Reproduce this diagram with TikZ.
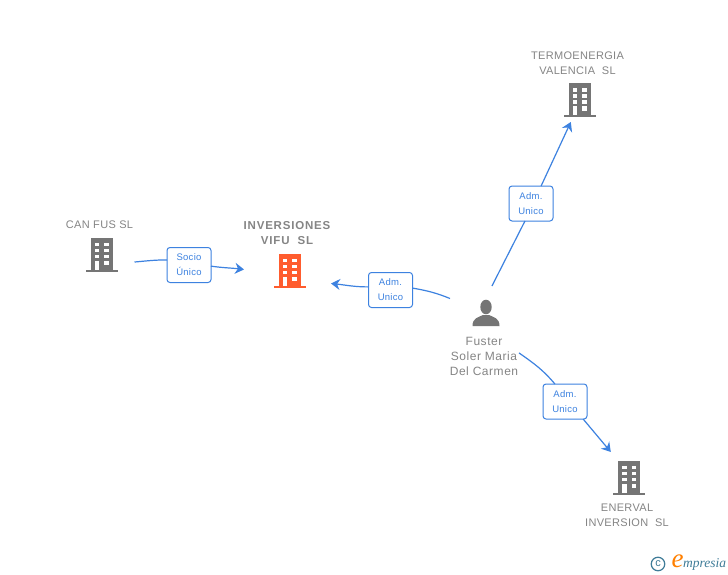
\documentclass[tikz,border=0pt]{standalone}
\usepackage{fontspec}
\setmainfont{Liberation Sans}
\newfontfamily\logofont{Liberation Serif}
\newfontfamily\namefont[LetterSpace=3]{Liberation Sans}
\newfontfamily\widefont[LetterSpace=7]{Liberation Sans}
\newfontfamily\personfont[LetterSpace=4.5]{Liberation Sans}
\newfontfamily\rolefont[LetterSpace=3]{Liberation Sans}
\usepackage{xcolor}
\usetikzlibrary{arrows.meta,positioning}
\definecolor{icongray}{HTML}{757575}
\definecolor{textgray}{HTML}{858585}
\definecolor{hotorange}{HTML}{FF5C2E}
\definecolor{linkblue}{HTML}{3D82E0}
\definecolor{logoteal}{HTML}{3F7C98}
\tikzset{
	building/.pic={
		\fill (-16,14.5) rectangle (16,17);
		\fill (-11,-17) rectangle (11,15);
		\foreach \y in {-12.5,-6.5,-0.5} {
			\fill[white] (-6.8,\y) rectangle +(4.4,3.9);
			\fill[white] (2.6,\y) rectangle +(4.4,3.9);
		}
		\fill[white] (-6.8,6) rectangle (-2.4,15);
		\fill[white] (2.6,6) rectangle (7,10.2);
	},
	person/.pic={
		\fill (0,-7) ellipse [x radius=5.7, y radius=7.3];
		\fill (-13.5,12) .. controls (-13.5,4) and (-8,3.5) .. (-3,1) -- (3,1) .. controls (8,3.5) and (13.5,4) .. (13.5,12) -- cycle;
	},
	anchorbox/.style={minimum width=#1,minimum height=44pt,inner sep=0pt,outer sep=0pt},
	namelabel/.style={align=center,text=textgray,font=\namefont\fontsize{11}{15}\selectfont,inner sep=0pt},
	rolebox/.style={draw=linkblue,fill=white,rounded corners=3pt,line width=1pt,minimum width=44pt,minimum height=35pt,inner sep=0pt,outer sep=0pt,align=center,text=linkblue,font=\rolefont\fontsize{9.5}{15}\selectfont},
	link/.style={draw=linkblue,line width=1.2pt},
	linkarrow/.style={link,-{Stealth[length=9pt,width=11pt]}},
}
\begin{document}
\begin{tikzpicture}[x=1pt,y=-1pt]
\useasboundingbox[fill=white] (0,0) rectangle (728,575);
% companies
\node[anchorbox=66pt] (canfus) at (101.5,255) {};
\node[anchorbox=87pt] (inversiones) at (287.5,271) {};
\node[anchorbox=60pt,minimum height=43pt] (termoenergia) at (579.5,100.5) {};
\node[anchorbox=60pt,minimum height=52pt] (enerval) at (629,478) {};
\node[anchorbox=69pt,minimum height=94pt] (fuster) at (484.5,333) {};
\pic[icongray,fill=icongray] at (101.5,255) {building};
\pic[hotorange,fill=hotorange] at (289.5,271) {building};
\pic[icongray,fill=icongray] at (579.5,100.5) {building};
\pic[icongray,fill=icongray] at (629,478) {building};
\pic[icongray,fill=icongray] at (486,314) {person};
% names
\node[namelabel] (canfusname) at (99.5,224.5) {CAN FUS SL};
\node[namelabel,font=\widefont\fontsize{11.5}{15}\selectfont\bfseries] (inversionesname) at (287,233) {INVERSIONES\\VIFU\ \ SL};
\node[namelabel] (termoname) at (577.5,63.5) {TERMOENERGIA\\VALENCIA\ \ SL};
\node[namelabel] (enervalname) at (627,515.5) {ENERVAL\\INVERSION\ \ SL};
\node[namelabel,font=\personfont\fontsize{12}{15}\selectfont] (fustername) at (484,356) {Fuster\\Soler Maria\\Del Carmen};
% role boxes
\node[rolebox] (socio) at (189,265) {Socio\\Único};
\node[rolebox] (admvifu) at (390.5,290) {Adm.\\Unico};
\node[rolebox] (admtermo) at (531,203.5) {Adm.\\Unico};
\node[rolebox] (admenerval) at (565,401.5) {Adm.\\Unico};
% connectors
\draw[link] (canfus.-12) to[out=5,in=180] (socio.167);
\draw[linkarrow] (socio.-3) to[out=-8,in=173] (inversiones.178);
\draw[link] (fuster.135) to[out=158,in=-10] (admvifu.5);
\draw[linkarrow] (admvifu.172) to[out=180,in=-6] (inversiones.-16);
\draw[link] (fuster.81) -- (admtermo.-109);
\draw[linkarrow] (admtermo.60) -- (termoenergia.-112);
\draw[link] (fuster.-30) to[out=-35,in=130] (admenerval.120);
\draw[linkarrow] (admenerval.-44) -- (enerval.125);
% logo
\node[circle,draw=logoteal,line width=1.2pt,inner sep=0pt,minimum size=13.5pt,text=logoteal,font=\fontsize{11}{11}\selectfont] (copyr) at (658,564) {c};
\node[font=\logofont\itshape\fontsize{27}{27}\selectfont,text=orange,inner sep=0pt] (logoe) at (677.5,561) {e};
\node[font=\logofont\itshape\fontsize{13.5}{14}\selectfont,text=logoteal,inner sep=0pt,anchor=west] (logotext) at (683,564) {mpresia};
\end{tikzpicture}
\end{document}
